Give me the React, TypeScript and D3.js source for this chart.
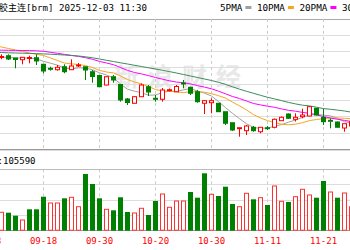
import React from 'react';
import * as d3 from 'd3';

// ---------- data ----------
const dates = ['09-08','09-09','09-10','09-11','09-12','09-15','09-16','09-17','09-18','09-19','09-22','09-23','09-24','09-25','09-26','09-29','09-30','10-09','10-10','10-13','10-14','10-15','10-16','10-17','10-20','10-21','10-22','10-23','10-24','10-27','10-28','10-29','10-30','10-31','11-03','11-04','11-05','11-06','11-07','11-10','11-11','11-12','11-13','11-14','11-17','11-18','11-19','11-20','11-21','11-24','11-25','11-26','11-27','11-28'];
const openP = [11650,11660,11630,11643,11620,11603,11615,11623,11557,11517,11503,11533,11503,11540,11533,11483,11445,11350,11433,11355,11210,11167,11233,11333,11217,11207,11295,11283,11370,11327,11283,11167,11173,11167,11083,10973,10913,10893,10927,10883,10923,10927,10993,11060,11007,11033,11040,11117,11025,10997,10980,10920,10940,10985];
const highP = [11680,11675,11657,11657,11620,11627,11643,11657,11560,11533,11550,11557,11607,11570,11533,11500,11445,11440,11450,11360,11220,11240,11365,11350,11250,11320,11315,11350,11400,11333,11300,11200,11217,11167,11083,10973,10923,10950,10940,10930,10940,11015,11035,11065,11067,11113,11140,11120,11113,11017,10985,10965,11000,11010];
const lowP = [11620,11620,11607,11600,11517,11557,11567,11550,11467,11493,11493,11467,11503,11530,11400,11373,11333,11345,11373,11183,11150,11165,11230,11240,11183,11183,11285,11283,11317,11250,11173,11060,11067,11083,10950,10890,10833,10850,10883,10867,10900,10917,10990,11010,10985,11017,11037,11045,10950,10917,10925,10883,10930,10960];
const closeP = [11660,11640,11635,11610,11605,11627,11625,11590,11490,11510,11527,11483,11540,11550,11500,11435,11333,11433,11400,11200,11175,11233,11350,11280,11210,11300,11303,11335,11363,11267,11183,11193,11193,11083,10967,10900,10923,10940,10893,10927,10917,11007,11027,11017,11027,11050,11133,11050,10983,10990,10927,10963,10985,10990];
const volume = [100000,90000,73600,72000,60000,42800,85600,85600,136000,110800,110800,129600,133600,96000,226800,186800,129600,85600,81600,133600,74800,70800,89600,62800,118800,146800,93600,118800,118800,154800,132000,229600,145600,138800,176000,106800,96000,149600,125600,132000,102800,178800,117600,114800,136000,165600,142800,132000,198800,154800,132000,150800,96000,105590];
const volUp = [1,0,1,0,0,1,0,0,0,1,1,0,1,1,0,0,0,1,0,0,0,1,1,0,0,1,1,1,1,0,0,0,1,0,0,0,1,1,0,1,0,1,1,0,1,1,1,0,0,1,0,1,1,1];
const ma5 = [11640,11635,11630,11625,11620,11620,11620,11611,11587,11568,11548,11520,11510,11522,11520,11502,11472,11450,11420,11360,11308,11288,11272,11248,11250,11275,11289,11286,11302,11314,11290,11268,11240,11184,11124,11067,11013,10963,10925,10917,10920,10937,10954,10979,10999,11026,11051,11055,11049,11041,11017,10983,10970,10970];
const ma10 = [11760,11745,11730,11715,11700,11685,11670,11657,11645,11620,11595,11570,11561,11555,11544,11525,11496,11480,11471,11440,11405,11380,11361,11334,11305,11291,11288,11279,11275,11282,11282,11278,11263,11243,11219,11179,11141,11101,11054,11020,10994,10975,10958,10952,10958,10973,10994,11005,11014,11020,11021,11017,11013,11010];
const ma20 = [11702,11700,11698,11697,11696,11695,11694,11692,11687,11677,11667,11656,11646,11636,11623,11607,11586,11570,11553,11525,11496,11475,11461,11444,11425,11408,11392,11379,11373,11361,11344,11329,11312,11288,11262,11235,11215,11190,11165,11151,11138,11127,11111,11097,11088,11076,11067,11053,11034,11020,11007,10996,10985,10980];
const ma30 = [11680,11677,11675,11672,11670,11668,11666,11664,11661,11658,11654,11650,11645,11640,11632,11622,11610,11597,11585,11572,11560,11547,11535,11522,11510,11497,11484,11470,11455,11440,11425,11410,11395,11377,11356,11332,11308,11287,11267,11247,11227,11211,11194,11176,11161,11148,11141,11128,11114,11107,11099,11090,11078,11070];
const tickDates = ['09-08','09-18','09-30','10-20','10-30','11-11','11-21'];
const titleCJK = '合成橡胶主连';
const titleRest = '[brm] 2025-12-03 11:30';
const legendLabels = ['5PMA','10PMA','20PMA','30PMA'];
const volumeLabel = 'VOL:105590';
const watermark = '新浪财经';

const RED = '#ff0000';
const GREEN = '#008000';
const maColors = ['#a0a0a0','#f5a623','#ff00ff','#3c8c5a'];
const MONO = '"DejaVu Sans Mono", monospace';

export default function App() {
  const W = 350, H = 250;
  const n = dates.length;
  const x = d3.scaleLinear().domain([0, n - 1]).range([-12.5, -12.5 + 7 * (n - 1)]);
  const y = d3.scaleLinear().domain([10705, 12010]).range([149.5, 19]);
  const yv = d3.scaleLinear().domain([0, 245600]).range([230.7, 169.3]);

  const priceGrid = d3.range(9).map(i => 10705 + (i * (12010 - 10705)) / 8);
  const volGrid = d3.range(5).map(i => (i * 245600) / 4);
  const tickIdx = tickDates.map(t => dates.indexOf(t));
  const line = d3.line<number>().x((_, i) => x(i)).y(d => y(d));
  const mas = [ma5, ma10, ma20, ma30];

  // legend layout
  let lx = 220;
  const legendItems = legendLabels.map((lab, k) => {
    const w = lab.length * 5.6;
    const item = { lab, tx: lx, w, sx: lx + w + 3, color: maColors[k] };
    lx += w + 3 + 6 + 5.5;
    return item;
  });

  const yb = (v: number) => Math.floor(y(v)) + 0.5;
  const yvb = (v: number) => Math.floor(yv(v)) + 0.5;

  return (
    <div style={{ position: 'absolute', left: 0, top: 0 }}>
      <svg width={W} height={H} style={{ display: 'block', background: '#fff' }}>
        <rect x={0} y={0} width={W} height={H} fill="#fff" />
        {/* watermark */}
        <text x={114} y={86} fontFamily='"Noto Sans CJK SC"' fontWeight={700} fontSize={25} letterSpacing={9} fill="#e8e8e8">{watermark}</text>

        {/* price grid */}
        {priceGrid.map((v, i) => (
          <line key={'pg' + i} x1={0} x2={W} y1={yb(v)} y2={yb(v)} stroke={i === 8 ? '#aaa' : i === 0 ? '#999' : '#ddd'} strokeWidth={1} />
        ))}
        <line x1={0} x2={W} y1={150.5} y2={150.5} stroke="#ddd" />
        {/* volume grid */}
        {volGrid.map((v, i) => (
          <line key={'vg' + i} x1={0} x2={W} y1={yvb(v)} y2={yvb(v)} stroke={i === 0 ? '#999' : i === 4 ? '#bbb' : '#ddd'} strokeWidth={1} />
        ))}
        {/* vertical dashed lines */}
        {tickIdx.map((ti, k) => (
          <g key={'vd' + k}>
            <line x1={x(ti)} x2={x(ti)} y1={y(12010)} y2={y(10705)} stroke="#ccc" strokeDasharray="3,3" />
            <line x1={x(ti)} x2={x(ti)} y1={yv(245600)} y2={yv(0)} stroke="#ccc" strokeDasharray="3,3" />
          </g>
        ))}

        {/* MA lines */}
        {mas.map((m, k) => (
          <path key={'ma' + k} d={line(m) || ''} fill="none" stroke={maColors[k]} strokeWidth={1} />
        ))}

        {/* candles */}
        {dates.map((d, i) => {
          const cx = x(i);
          const up = closeP[i] >= openP[i];
          const top = y(Math.max(openP[i], closeP[i]));
          const bot = y(Math.min(openP[i], closeP[i]));
          const h = Math.max(bot - top, 1);
          const c = up ? RED : GREEN;
          return (
            <g key={'c' + d}>
              <line x1={cx} x2={cx} y1={y(highP[i])} y2={top} stroke={c} />
              <line x1={cx} x2={cx} y1={top + h} y2={y(lowP[i])} stroke={c} />
              {up ? (
                <rect x={cx - 2} y={top} width={4} height={h} fill="#fff" stroke={c} strokeWidth={1} />
              ) : (
                <rect x={cx - 2.5} y={top - 0.5} width={5} height={h + 1} fill={c} />
              )}
            </g>
          );
        })}

        {/* volume bars */}
        {dates.map((d, i) => {
          const cx = x(i);
          const t = yv(volume[i]);
          const b = yv(0);
          return volUp[i] ? (
            <rect key={'v' + d} x={cx - 2} y={t} width={4} height={b - t - 0.5} fill="#fff" stroke="#ff3030" strokeWidth={1} />
          ) : (
            <rect key={'v' + d} x={cx - 2.5} y={t} width={5} height={b - t} fill={GREEN} />
          );
        })}

        {/* header */}
        <text x={26} y={11} textAnchor="end" fontFamily='"Noto Sans CJK SC"' fontSize={9} fill="#000">{titleCJK}</text>
        <text x={26} y={11} fontFamily={MONO} fontSize={9} textLength={121} lengthAdjust="spacingAndGlyphs" fill="#000">{titleRest}</text>
        {legendItems.map(it => (
          <g key={it.lab}>
            <text x={it.tx} y={11} fontFamily={MONO} fontSize={9} textLength={it.w} lengthAdjust="spacingAndGlyphs" fill="#000">{it.lab}</text>
            <rect x={it.sx} y={6} width={6} height={3} fill={it.color} />
          </g>
        ))}

        {/* volume label */}
        <text x={35.5} y={164} textAnchor="end" fontFamily={MONO} fontSize={9} fill="#000">{volumeLabel}</text>

        {/* date labels */}
        {tickIdx.map((ti, k) => (
          <text key={'dl' + k} x={x(ti)} y={243.5} textAnchor="middle" fontFamily={MONO} fontSize={9} fill={RED}>{tickDates[k]}</text>
        ))}
      </svg>
    </div>
  );
}
